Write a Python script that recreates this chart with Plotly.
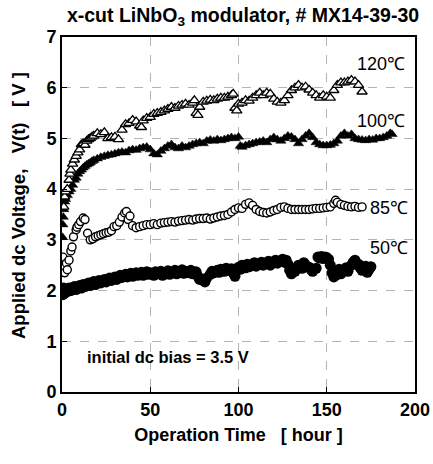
import plotly.graph_objects as go

# ---------------- data ----------------
t120 = [1, 1.5, 2, 3, 4, 4.5, 5, 6, 7, 8, 9, 10, 11, 12, 13, 14, 15, 16, 17, 18, 20, 22, 24, 26, 28,
        30, 32, 34, 36, 38, 40, 42, 44, 45, 46, 48, 50, 52, 54, 56, 58, 60, 62, 64, 66, 68, 70, 72,
        74, 75, 76, 77, 78, 80, 82, 84, 86, 88, 90, 92, 94, 96, 97, 98, 99, 100, 102, 104, 106, 108,
        110, 112, 114, 116, 118, 120, 122, 124, 126, 128, 130, 132, 134, 136, 138, 140, 142, 144,
        146, 148, 150, 152, 154, 156, 158, 160, 162, 164, 166, 168, 170]
v120 = [3.65, 3.85, 3.95, 4.0, 4.18, 4.3, 4.38, 4.5, 4.58, 4.65, 4.72, 4.78, 4.88, 4.9, 4.87, 4.95,
        4.98, 5.0, 5.03, 5.05, 5.1, 5.08, 5.12, 5.0, 5.02, 5.03, 4.98, 5.17, 5.28, 5.3, 5.36, 5.33,
        5.25, 5.22, 5.35, 5.4, 5.42, 5.48, 5.5, 5.52, 5.55, 5.58, 5.62, 5.6, 5.64, 5.66, 5.68, 5.66,
        5.7, 5.75, 5.5, 5.46, 5.62, 5.72, 5.74, 5.76, 5.75, 5.78, 5.8, 5.8, 5.82, 5.85, 5.88, 5.6,
        5.55, 5.68, 5.7, 5.75, 5.74, 5.8, 5.85, 5.9, 5.85, 5.9, 5.88, 5.78, 5.72, 5.7, 5.75, 5.85,
        5.95, 6.0, 6.05, 6.0, 6.02, 5.96, 5.9, 5.85, 5.8, 5.85, 5.82, 5.8, 5.95, 6.05, 6.1, 6.1,
        6.12, 6.15, 6.12, 6.05, 5.92]

t100 = [0.3, 0.5, 0.7, 1, 1.5, 2, 3, 4, 5, 6, 7, 8, 9, 10, 11, 12, 13, 14, 15, 16, 17, 18, 20, 22,
        24, 26, 28, 30, 32, 34, 36, 38, 40, 42, 44, 46, 48, 50, 52, 54, 56, 58, 60, 62, 64, 66, 68,
        70, 72, 74, 76, 78, 80, 82, 84, 86, 88, 90, 92, 94, 96, 98, 100, 101, 102, 104, 106, 108,
        110, 112, 114, 116, 118, 120, 122, 124, 126, 128, 130, 132, 134, 136, 138, 140, 142, 144,
        146, 148, 150, 152, 154, 156, 158, 160, 162, 164, 166, 168, 170, 172, 174, 176, 178, 180,
        182, 184, 186, 187]
v100 = [3.05, 3.3, 3.45, 3.6, 3.75, 3.8, 3.88, 3.95, 4.0, 4.08, 4.18, 4.22, 4.3, 4.35, 4.38, 4.42,
        4.45, 4.48, 4.5, 4.52, 4.55, 4.57, 4.6, 4.63, 4.65, 4.67, 4.68, 4.7, 4.72, 4.73, 4.72, 4.76,
        4.78, 4.77, 4.8, 4.82, 4.83, 4.78, 4.7, 4.68, 4.75, 4.8, 4.85, 4.88, 4.82, 4.8, 4.85, 4.82,
        4.85, 4.88, 4.9, 4.92, 4.9, 4.95, 4.97, 4.95, 4.98, 4.96, 4.98, 5.0, 5.02, 5.0, 5.03, 4.85,
        4.83, 4.86, 4.88, 4.9, 4.92, 4.93, 4.95, 4.92, 4.98, 5.02, 4.98, 4.95, 5.0, 5.05, 5.03, 4.98,
        4.9, 4.98, 5.05, 5.1, 5.02, 4.92, 4.88, 4.86, 4.86, 4.87, 4.9, 4.95, 5.05, 5.1, 5.05, 5.08,
        5.0, 4.98, 4.97, 4.96, 4.98, 4.97, 5.0, 5.0, 5.02, 5.05, 5.1, 5.08]

t85 = [0.5, 1, 1.5, 2.5, 3, 4, 5, 5.7, 6.5, 8, 8.5, 9.5, 10.5, 12, 13, 14.5, 16, 17.5, 19, 20.5, 22,
       23.5, 25, 26.5, 28, 29.5, 31, 32.5, 34, 35.5, 36.5, 37.5, 38.5, 40, 42, 44, 46, 48, 50, 52,
       54, 56, 58, 60, 62, 64, 66, 68, 70, 72, 74, 76, 78, 80, 82, 84, 86, 88, 90, 92, 94, 96, 98,
       100, 102, 104, 106, 108, 110, 112, 114, 116, 118, 120, 122, 124, 126, 128, 130, 132, 134,
       136, 138, 140, 142, 144, 146, 148, 150, 152, 154, 155, 156, 158, 160, 162, 164, 166, 168, 170]
v85 = [2.66, 2.45, 2.35, 2.54, 2.41, 2.6, 2.78, 2.86, 3.06, 3.2, 3.25, 3.3, 3.36, 3.43, 3.4, 3.13,
       3.0, 3.02, 3.06, 3.08, 3.1, 3.12, 3.14, 3.15, 3.18, 3.26, 3.28, 3.35, 3.45, 3.53, 3.56, 3.4,
       3.47, 3.28, 3.24, 3.26, 3.28, 3.3, 3.3, 3.32, 3.3, 3.33, 3.34, 3.35, 3.36, 3.35, 3.37, 3.38,
       3.39, 3.4, 3.39, 3.41, 3.42, 3.42, 3.43, 3.41, 3.43, 3.45, 3.47, 3.48, 3.5, 3.55, 3.6, 3.63,
       3.62, 3.7, 3.73, 3.68, 3.6, 3.56, 3.54, 3.53, 3.55, 3.58, 3.6, 3.64, 3.65, 3.62, 3.6, 3.6,
       3.6, 3.6, 3.6, 3.6, 3.61, 3.62, 3.62, 3.63, 3.64, 3.65, 3.72, 3.78, 3.74, 3.7, 3.68, 3.66,
       3.65, 3.66, 3.64, 3.65]

t50 = [0, 0.5, 1, 1.5, 2, 3, 4, 5, 6, 7, 8, 9, 10, 11, 12, 13, 14, 15, 16, 17, 18, 19, 20, 21, 22,
       23, 24, 25, 26, 27, 28, 29, 30, 31, 32, 33, 34, 35, 36, 37, 38, 39, 40, 41, 42, 43, 44, 45,
       46, 47, 48, 49, 50, 52, 53, 54, 56, 57, 58, 60, 61, 62, 64, 65, 66, 68, 69, 70, 72, 73, 74,
       76, 77, 78, 80, 81, 82, 84, 85, 86, 88, 89, 90, 92, 93, 94, 96, 97, 98, 100, 101, 102, 104,
       105, 106, 108, 109, 110, 112, 113, 114, 116, 117, 118, 120, 121, 122, 124, 125, 126, 127,
       128, 129, 130, 132, 133, 134, 136, 137, 138, 140, 141, 142, 144, 145, 146, 147, 148, 149,
       150, 151, 152, 153, 154, 155, 156, 157, 158, 160, 161, 162, 164, 165, 166, 168, 169, 170,
       172, 173, 174, 175]
v50 = [2.0, 1.92, 2.05, 1.95, 2.02, 1.98, 2.05, 2.0, 2.03, 2.08, 2.02, 2.07, 2.1, 2.05, 2.12, 2.08,
       2.1, 2.15, 2.1, 2.13, 2.18, 2.12, 2.16, 2.2, 2.15, 2.18, 2.22, 2.17, 2.2, 2.25, 2.2, 2.24,
       2.27, 2.22, 2.25, 2.3, 2.26, 2.28, 2.32, 2.27, 2.3, 2.34, 2.28, 2.31, 2.35, 2.3, 2.33, 2.36,
       2.3, 2.33, 2.37, 2.32, 2.35, 2.3, 2.37, 2.33, 2.38, 2.3, 2.35, 2.39, 2.32, 2.36, 2.4, 2.33,
       2.37, 2.41, 2.34, 2.38, 2.35, 2.4, 2.33, 2.37, 2.28, 2.22, 2.2, 2.17, 2.25, 2.32, 2.38, 2.35,
       2.4, 2.36, 2.42, 2.38, 2.44, 2.4, 2.43, 2.35, 2.28, 2.46, 2.42, 2.5, 2.45, 2.52, 2.47, 2.5,
       2.55, 2.48, 2.52, 2.56, 2.5, 2.54, 2.58, 2.5, 2.56, 2.6, 2.54, 2.58, 2.62, 2.56, 2.6, 2.52,
       2.4, 2.33, 2.38, 2.45, 2.5, 2.44, 2.55, 2.5, 2.46, 2.42, 2.38, 2.44, 2.66, 2.64, 2.67, 2.63,
       2.66, 2.65, 2.62, 2.5, 2.35, 2.27, 2.3, 2.36, 2.42, 2.33, 2.4, 2.45, 2.38, 2.5, 2.56, 2.6,
       2.52, 2.45, 2.4, 2.48, 2.36, 2.42, 2.47, 2.4, 2.45, 2.5]

x_ticks = [0, 50, 100, 150, 200]
y_ticks = [0, 1, 2, 3, 4, 5, 6, 7]

labels = ["120℃", "100℃", "85℃", "50℃"]
label_x = [181, 181, 185, 185]
label_y = [6.47, 5.35, 3.63, 2.84]

FONT = "Liberation Sans, Arial, sans-serif"

fig = go.Figure()
fig.add_trace(go.Scatter(x=t50, y=v50, mode="markers",
                         marker=dict(symbol="circle", size=11, color="black", line=dict(width=0)),
                         showlegend=False))
fig.add_trace(go.Scatter(x=t85, y=v85, mode="markers",
                         marker=dict(symbol="circle", size=8, color="white",
                                     line=dict(width=1.4, color="black")),
                         showlegend=False))
fig.add_trace(go.Scatter(x=t100, y=v100, mode="markers",
                         marker=dict(symbol="triangle-up", size=9, color="black",
                                     line=dict(width=0.5, color="black")),
                         showlegend=False))
fig.add_trace(go.Scatter(x=t120, y=v120, mode="markers",
                         marker=dict(symbol="triangle-up", size=9, color="white",
                                     line=dict(width=1.3, color="black")),
                         showlegend=False))

for txt, lx, ly in zip(labels, label_x, label_y):
    fig.add_annotation(x=lx, y=ly, text=txt, showarrow=False,
                       font=dict(family=FONT, size=18, color="black"))

fig.add_annotation(x=60, y=0.69, text="initial dc bias = 3.5 V", showarrow=False,
                   font=dict(family=FONT, size=16.5, color="black", weight="bold"))

# y-axis title as a rotated annotation so it can sit exactly where the reference has it
fig.add_annotation(xref="paper", yref="paper", x=(18 - 62) / 353, y=(392 - 206) / 355,
                   text="Applied dc Voltage,   V(t)   [ V ]", textangle=-90, showarrow=False,
                   xanchor="center", yanchor="middle",
                   font=dict(family=FONT, size=18.5, color="black", weight="bold"))

fig.update_layout(
    width=433, height=464,
    margin=dict(l=62, r=18, t=37, b=72, autoexpand=False),
    paper_bgcolor="white", plot_bgcolor="white",
    font=dict(family=FONT, color="black"),
    title=dict(text="x-cut LiNbO<sub>3</sub> modulator, # MX14-39-30",
               x=243 / 433, xanchor="center", y=1 - 15 / 464, yanchor="middle",
               font=dict(family=FONT, size=19.5, color="black", weight="bold")),
)
fig.update_xaxes(range=[0, 200], tickvals=x_ticks, ticks="inside", ticklen=5,
                 tickcolor="black", showline=True, linecolor="black", linewidth=2, mirror=True,
                 showgrid=True, gridcolor="#b4b4b4", griddash="dash", gridwidth=1,
                 zeroline=False, automargin=False,
                 tickfont=dict(family=FONT, size=18, color="black", weight="bold"),
                 title=dict(text="Operation Time   [ hour ]", standoff=10,
                            font=dict(family=FONT, size=18, color="black", weight="bold")))
fig.update_yaxes(range=[0, 7], tickvals=y_ticks, ticks="inside", ticklen=5,
                 tickcolor="black", showline=True, linecolor="black", linewidth=2, mirror=True,
                 showgrid=True, gridcolor="#b4b4b4", griddash="dash", gridwidth=1,
                 zeroline=False, automargin=False,
                 tickfont=dict(family=FONT, size=18, color="black", weight="bold"))

fig.write_html("out.html", config={"displayModeBar": False},
               post_script="document.body.style.margin='0';")
